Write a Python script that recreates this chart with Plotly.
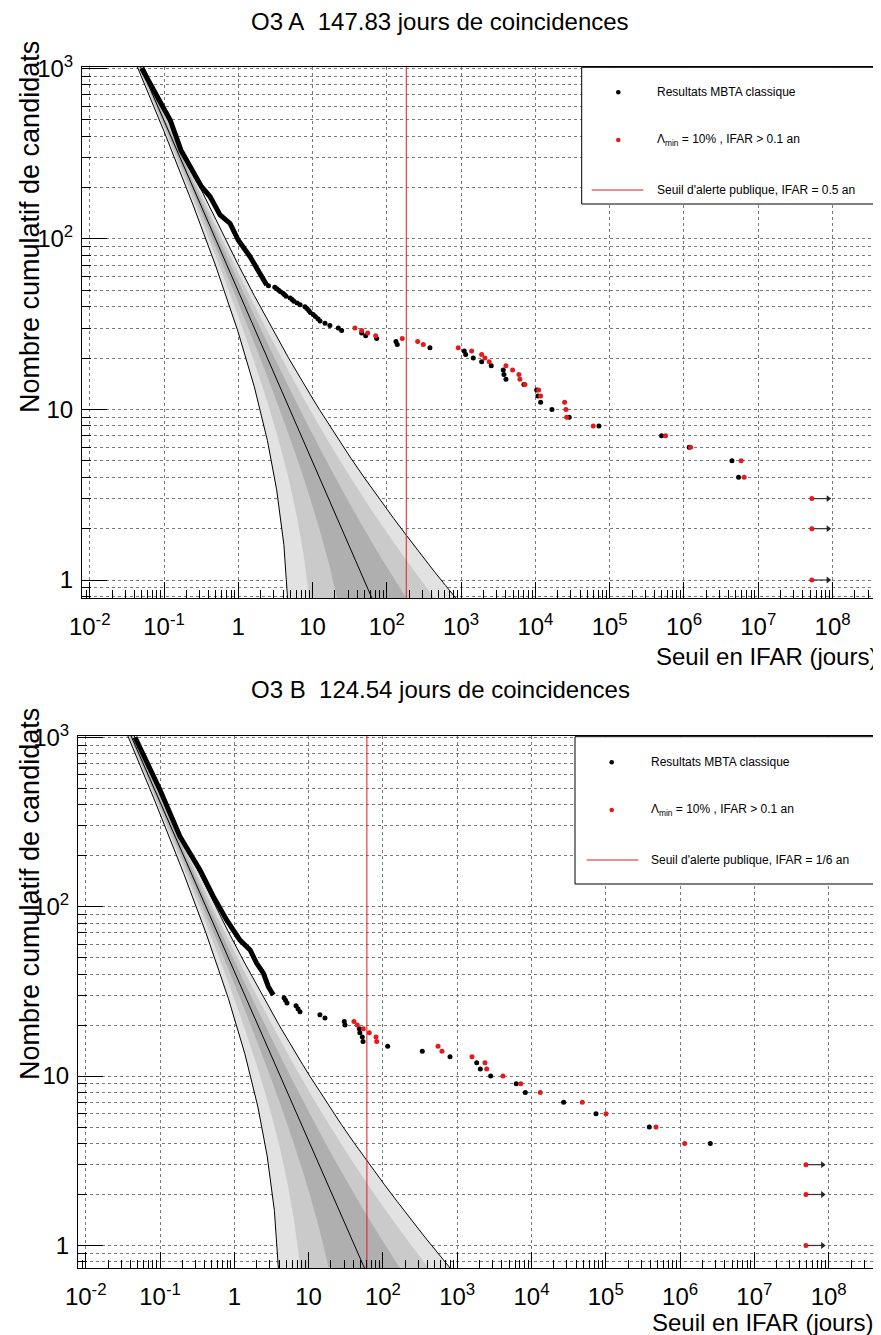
import plotly.graph_objects as go

# page is shifted by the 8px body margin, so the figure is 8px smaller and coordinates shifted
OFF = 8
W, H = 881 - OFF, 1335 - OFF
FONT = "Liberation Sans"

bkg_mu = [2000, 1000, 500, 200, 100, 50, 30, 20, 15, 12, 10.5, 10, 8, 6.5, 5.45, 5, 4, 3,
          2.3, 2, 1.5, 1, 0.78, 0.6, 0.4, 0.267, 0.2, 0.113, 0.08, 0.058, 0.04]
bkg_up1 = [2044.7, 1031.6, 522.4, 214.1, 110, 57.07, 35.48, 24.47, 18.87, 15.46, 13.74, 13.16, 10.83,
           9.05, 7.79, 7.24, 6.0, 4.73, 3.82, 3.41, 2.72, 2.0, 1.66, 1.37, 1.03, 0.78, 0.65, 0.45,
           0.36, 0.30, 0.24]
bkg_up2 = [2089.4, 1063.2, 544.7, 228.3, 120, 64.1, 40.95, 28.94, 22.75, 18.93, 16.98, 16.32, 13.66,
           11.6, 10.12, 9.47, 8.0, 6.46, 5.33, 4.83, 3.95, 3.0, 2.55, 2.15, 1.665, 1.30, 1.094, 0.785,
           0.646, 0.54, 0.44]
bkg_up3 = [2134.2, 1094.9, 567.1, 242.4, 130, 71.2, 46.43, 33.42, 26.62, 22.39, 20.22, 19.49, 16.48,
           14.15, 12.46, 11.71, 10.0, 8.20, 6.85, 6.24, 5.17, 4.0, 3.43, 2.92, 2.30, 1.82, 1.54, 1.12,
           0.93, 0.78, 0.64]
bkg_lo1 = [1955.3, 968.4, 477.6, 185.9, 90, 42.93, 24.52, 15.53, 11.13, 8.54, 7.26, 6.84, 5.17, 3.95,
           3.115, 2.76, 2.0, 1.27, 0.78, 0.586, 0.275, 0.1, 0.1, 0.1, 0.1, 0.1, 0.1, 0.1, 0.1, 0.1, 0.1]
bkg_lo2 = [1910.6, 936.8, 455.3, 171.7, 80, 35.86, 19.05, 11.06, 7.25, 5.07, 4.02, 3.68, 2.34, 1.40,
           0.78, 0.53, 0.1, 0.1, 0.1, 0.1, 0.1, 0.1, 0.1, 0.1, 0.1, 0.1, 0.1, 0.1, 0.1, 0.1, 0.1]
bkg_lo3 = [1865.8, 905.1, 432.9, 157.6, 70, 28.79, 13.57, 6.58, 3.38, 1.61, 0.78, 0.51, 0.1, 0.1,
           0.1, 0.1, 0.1, 0.1, 0.1, 0.1, 0.1, 0.1, 0.1, 0.1, 0.1, 0.1, 0.1, 0.1, 0.1, 0.1, 0.1]

# IFAR (jours) where the background reaches each expected count
bkg_x_a = [0.02464, 0.04928, 0.09856, 0.2464, 0.4928, 0.9856, 1.643, 2.464, 3.285, 4.107, 4.693,
           4.928, 6.16, 7.582, 9.042, 9.856, 12.32, 16.43, 21.43, 24.64, 32.85, 49.28, 63.18, 82.13,
           123.2, 184.6, 246.4, 436.1, 616, 849.7, 1232]
bkg_x_b = [0.02076, 0.04151, 0.08302, 0.2076, 0.4151, 0.8302, 1.384, 2.076, 2.767, 3.459, 3.953,
           4.151, 5.189, 6.386, 7.617, 8.302, 10.38, 13.84, 18.05, 20.76, 27.67, 41.51, 53.22, 69.18,
           103.8, 155.5, 207.6, 367.3, 518.9, 715.7, 1038]

# ---- O3 A
dense_a_x = [0.050, 0.080, 0.121, 0.169, 0.275, 0.32, 0.416, 0.568, 0.775, 1.0, 1.44, 1.96, 2.41]
dense_a_n = [1000, 697, 497, 331, 231, 202, 177, 138, 123, 98, 78.5, 62.8, 53.6]
mbta_a_x = [2.55, 3.1, 3.3, 3.5, 3.7, 4.0, 4.2, 4.4, 5.0, 5.3, 5.6, 6.2, 6.8, 7.9, 8.4, 8.9, 9.3,
            10.2, 10.9, 11.8, 12.6, 14.7, 17.1, 22.2, 24.6, 45.8, 51.9, 72.9, 132.5, 138, 380,
            1102, 1151, 1456, 1888, 2543, 3687, 3767, 4010, 7000, 10380, 10810, 11750, 16680,
            28500, 71600, 5.0e5, 1.175e6, 4.42e6, 5.43e6]
mbta_a_n = [53, 52, 51, 50, 49, 48, 47, 46, 45, 44, 43, 42, 41, 40, 39, 38, 37, 36, 35, 34, 33, 32,
            31, 30, 29, 28, 27, 26, 25, 24, 23, 22, 21, 20, 19, 18, 17, 16, 15, 14, 13, 12, 11, 10,
            9, 8, 7, 6, 5, 4]
lam_a_x = [37.2, 45.8, 55.2, 70.7, 161, 260, 309, 914, 1384, 1888, 2089, 2388, 4010, 4932, 5998,
           6180, 7228, 11040, 11750, 24720, 25760, 26300, 60000, 5.65e5, 1.227e6, 5.89e6, 6.46e6,
           5.26e7, 5.26e7, 5.26e7]
lam_a_n = [30, 29, 28, 27, 26, 25, 24, 23, 22, 21, 20, 19, 18, 17, 16, 15, 14, 13, 12, 11, 10, 9, 8,
           7, 6, 5, 4, 3, 2, 1]
arrow_a_n = [3, 2, 1]
arrow_a_x = [5.26e7, 8.73e7]
alert_a = 182.6  # 0.5 an

# ---- O3 B
dense_b_x = [0.0461, 0.100, 0.186, 0.345, 0.521, 0.791, 1.19, 1.63, 2.00, 2.46, 2.87, 3.35]
dense_b_n = [1000, 489, 259, 165, 115, 83.3, 63.5, 55.5, 46.3, 40.5, 33.7, 30.1]
mbta_b_x = [4.67, 4.89, 5.12, 6.77, 7.2, 7.65, 14.2, 16.6, 30.2, 30.9, 48.1, 48.9, 52.8, 54, 116,
            339, 800, 1830, 2046, 2825, 6240, 8260, 27100, 73800, 3.85e5, 2.55e6]
mbta_b_n = [29, 28, 27, 26, 25, 24, 23, 22, 21, 20, 19, 18, 17, 16, 15, 14, 13, 12, 11, 10, 9, 8,
            7, 6, 5, 4]
lam_b_x = [40.8, 45.2, 54.5, 65.6, 80.7, 82.6, 552, 624, 1582, 2366, 2495, 4130, 7160, 13130, 48300,
           1.007e5, 4.74e5, 1.153e6, 4.94e7, 4.94e7, 4.94e7]
lam_b_n = [21, 20, 19, 18, 17, 16, 15, 14, 13, 12, 11, 10, 9, 8, 7, 6, 5, 4, 3, 2, 1]
arrow_b_n = [3, 2, 1]
arrow_b_x = [4.94e7, 8.3e7]
alert_b = 60.875  # 1/6 an

xtick_vals = [1e-2, 1e-1, 1, 10, 1e2, 1e3, 1e4, 1e5, 1e6, 1e7, 1e8]
xtick_text = ["10<sup>-2</sup>", "10<sup>-1</sup>", "1", "10", "10<sup>2</sup>", "10<sup>3</sup>",
              "10<sup>4</sup>", "10<sup>5</sup>", "10<sup>6</sup>", "10<sup>7</sup>", "10<sup>8</sup>"]
ytick_vals = [1, 10, 100, 1000]
ytick_text = ["1", "10", "10<sup>2</sup>", "10<sup>3</sup>"]
minor_x = [m * 10.0 ** e for e in range(-3, 9) for m in range(2, 10)]
minor_y = [m * 10.0 ** e for e in range(-1, 4) for m in range(2, 10)]

RED = "#e41a1c"
fig = go.Figure()


def add_panel(xa, ya, bkg_x, dense_x, dense_n, bx, bn, rx, rn, ax_x, ax_n, alert):
    kw = dict(xaxis=xa, yaxis=ya, showlegend=False, hoverinfo="skip")
    # bands 3 sigma / 2 sigma / 1 sigma
    for up, lo, col in [(bkg_up3, bkg_lo3, "#e2e2e2"), (bkg_up2, bkg_lo2, "#cacaca"),
                        (bkg_up1, bkg_lo1, "#afafaf")]:
        fig.add_trace(go.Scatter(x=bkg_x + bkg_x[::-1], y=up + lo[::-1], fill="toself",
                                 fillcolor=col, mode="none", **kw))
    for yy in [bkg_up3, bkg_mu, bkg_lo3]:
        fig.add_trace(go.Scatter(x=bkg_x, y=yy, mode="lines", line=dict(color="black", width=1), **kw))
    # alert threshold
    fig.add_trace(go.Scatter(x=[alert, alert], y=[0.1, 5000], mode="lines",
                             line=dict(color=RED, width=1), **kw))
    # MBTA classique
    fig.add_trace(go.Scatter(x=dense_x, y=dense_n, mode="lines",
                             line=dict(color="black", width=5), **kw))
    fig.add_trace(go.Scatter(x=bx, y=bn, mode="markers",
                             marker=dict(color="black", size=5), **kw))
    # lower limits (arrows)
    for n in ax_n:
        fig.add_trace(go.Scatter(x=ax_x, y=[n, n], mode="lines",
                                 line=dict(color="#333333", width=1.2), **kw))
        fig.add_trace(go.Scatter(x=ax_x[1:], y=[n], mode="markers",
                                 marker=dict(color="#222222", size=6, symbol="triangle-right"), **kw))
    fig.add_trace(go.Scatter(x=rx, y=rn, mode="markers",
                             marker=dict(color=RED, size=5), **kw))


add_panel("x", "y", bkg_x_a, dense_a_x, dense_a_n, mbta_a_x, mbta_a_n, lam_a_x, lam_a_n,
          arrow_a_x, arrow_a_n, alert_a)
add_panel("x2", "y2", bkg_x_b, dense_b_x, dense_b_n, mbta_b_x, mbta_b_n, lam_b_x, lam_b_n,
          arrow_b_x, arrow_b_n, alert_b)


def px_x(p):
    return (p - OFF) / W


def px_y(p):
    return 1 - (p - OFF) / H


grid = dict(showgrid=True, gridcolor="#7a7a7a", griddash="dot", gridwidth=1)
common_x = dict(type="log", tickmode="array", tickvals=xtick_vals, ticktext=xtick_text,
                ticks="inside", ticklen=16, tickcolor="black", showline=True, linecolor="black",
                linewidth=1, mirror=True, zeroline=False, ticklabelstandoff=7, automargin=False,
                tickfont=dict(family=FONT, size=24, color="black"),
                minor=dict(tickmode="array", tickvals=minor_x, ticks="inside", ticklen=8,
                           tickcolor="black", showgrid=False), **grid)
common_y = dict(type="log", tickmode="array", tickvals=ytick_vals, ticktext=ytick_text,
                ticks="inside", ticklen=25, tickcolor="black", showline=True, linecolor="black",
                linewidth=1, mirror=True, zeroline=False, ticklabelstandoff=3, automargin=False,
                tickfont=dict(family=FONT, size=24, color="black"),
                minor=dict(tickmode="array", tickvals=minor_y, ticks="inside", ticklen=9,
                           tickcolor="black", showgrid=True, gridcolor="#7a7a7a", griddash="dot",
                           gridwidth=1), **grid)

fig.update_layout(
    width=W, height=H, margin=dict(l=0, r=0, t=0, b=0, pad=0, autoexpand=False),
    plot_bgcolor="white", paper_bgcolor="white", showlegend=False,
    xaxis=dict(domain=[px_x(82), px_x(879.5)], range=[-2.104, 8.632], anchor="y", **common_x),
    yaxis=dict(domain=[px_y(598), px_y(67)], range=[-0.1055, 3.007], anchor="x", **common_y),
    xaxis2=dict(domain=[px_x(78), px_x(874)], range=[-2.104, 8.61], anchor="y2", **common_x),
    yaxis2=dict(domain=[px_y(1268), px_y(736)], range=[-0.133, 3.0077], anchor="x2", **common_y),
)

ann = []
shapes = []


def text(x, y, s, size, xanchor="center", angle=0, yanchor="middle"):
    ann.append(dict(x=px_x(x), y=px_y(y), xref="paper", yref="paper", text=s, showarrow=False,
                    xanchor=xanchor, yanchor=yanchor, textangle=angle,
                    font=dict(family=FONT, size=size, color="black")))


def legend(x0, y0, x1, y1, mx, tx, rows, red_x0, red_x1, label3):
    shapes.append(dict(type="rect", xref="paper", yref="paper", x0=px_x(x0), x1=px_x(x1),
                       y0=px_y(y1), y1=px_y(y0), line=dict(color="black", width=1),
                       fillcolor="white", layer="above"))
    for r, col in zip(rows[:2], ["black", RED]):
        shapes.append(dict(type="circle", xref="paper", yref="paper", x0=px_x(mx - 2.3),
                           x1=px_x(mx + 2.3), y0=px_y(r + 2.3), y1=px_y(r - 2.3),
                           fillcolor=col, line=dict(width=0)))
    shapes.append(dict(type="line", xref="paper", yref="paper", x0=px_x(red_x0), x1=px_x(red_x1),
                       y0=px_y(rows[2]), y1=px_y(rows[2]), line=dict(color=RED, width=1)))
    text(tx, rows[0], "Resultats MBTA classique", 12, "left")
    text(tx, rows[1], "\u039b<sub>min</sub> = 10% , IFAR &gt; 0.1 an", 12, "left")
    text(tx, rows[2], label3, 12, "left")


text(440, 21, "O3 A\u00a0 147.83 jours de coincidences", 24)
text(440, 690, "O3 B\u00a0 124.54 jours de coincidences", 24)
text(30, 39, "Nombre cumulatif de candidats", 27, angle=-90, yanchor="top")
text(30, 706, "Nombre cumulatif de candidats", 27, angle=-90, yanchor="top")
text(879, 656, "Seuil en IFAR (jours)", 24, "right")
text(875, 1322, "Seuil en IFAR (jours)", 24, "right")

legend(581.7, 67.3, 879.5, 204, 618.3, 655, [92.3, 140, 190], 591.7, 643.3,
       "Seuil d'alerte publique, IFAR = 0.5 an")
legend(575, 736.7, 873.5, 884, 611.7, 649, [762.3, 810, 860], 586.7, 638.3,
       "Seuil d'alerte publique, IFAR = 1/6 an")

fig.update_layout(annotations=ann, shapes=shapes)
fig.write_html("out.html")
